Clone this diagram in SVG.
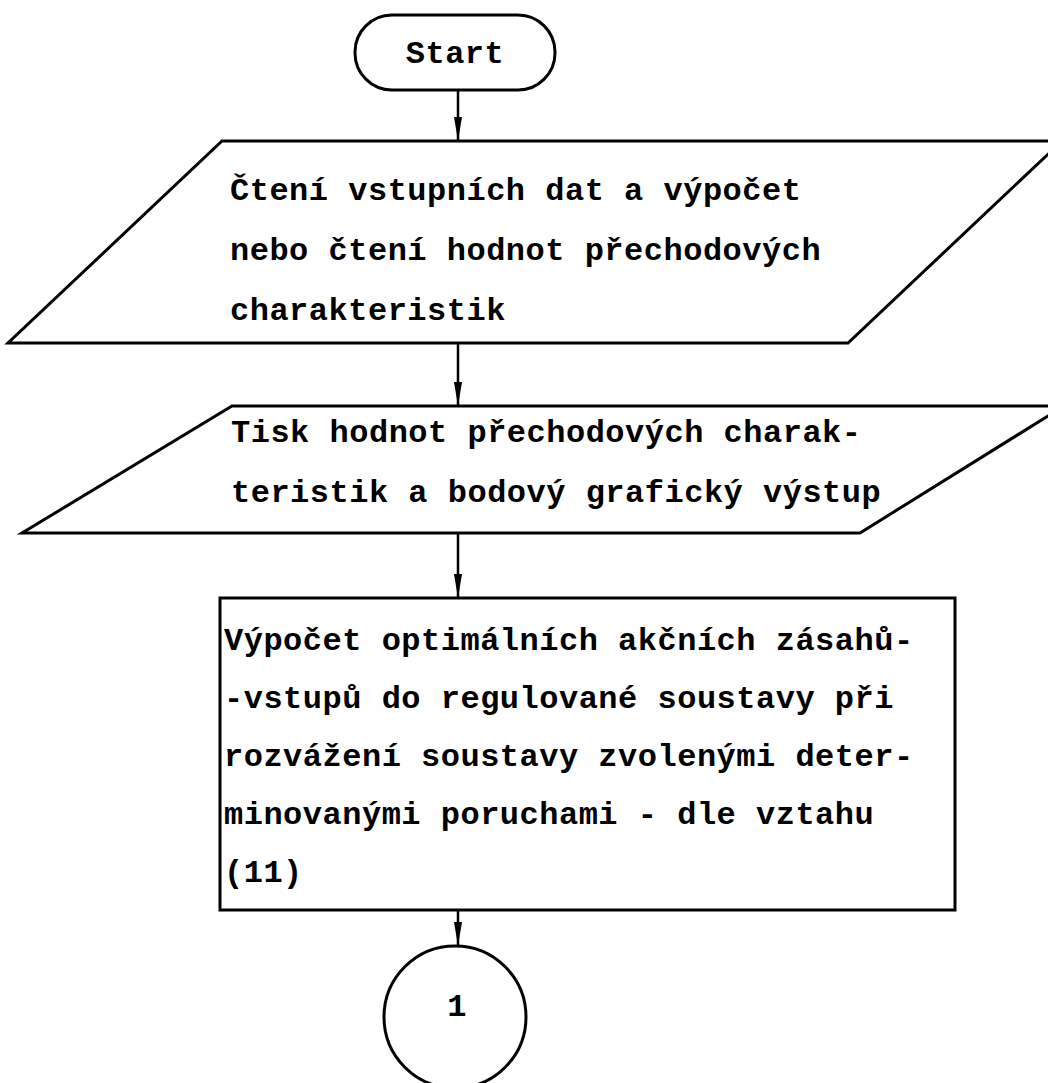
<svg xmlns="http://www.w3.org/2000/svg" width="1048" height="1083" viewBox="0 0 1048 1083">
<style>
.s{fill:#fff;stroke:#000;stroke-width:3;stroke-linejoin:miter}
.c{stroke:#000;stroke-width:2.5;fill:none}
text{font-family:"Liberation Mono","Courier New",monospace;font-weight:bold;font-size:32px;letter-spacing:0.5px;fill:#000}
</style>
<defs>
<marker id="ah" viewBox="0 0 24 10" refX="24" refY="5" markerWidth="24" markerHeight="10" markerUnits="userSpaceOnUse" orient="auto">
<path d="M0,1 L24,5 L0,9 z" fill="#000"/>
</marker>
</defs>
<rect width="1048" height="1083" fill="#fff"/>
<g id="connectors">
<line class="c" x1="458" y1="90" x2="458" y2="141" marker-end="url(#ah)"/>
<line class="c" x1="458" y1="343" x2="458" y2="406" marker-end="url(#ah)"/>
<line class="c" x1="458" y1="533" x2="458" y2="598" marker-end="url(#ah)"/>
<line class="c" x1="458" y1="910" x2="458" y2="946" marker-end="url(#ah)"/>
</g>
<g id="start">
<rect class="s" x="355" y="15" width="200" height="75" rx="37" ry="37"/>
<text x="455" y="63" text-anchor="middle">Start</text>
</g>
<g id="input1">
<polygon class="s" points="222,141 1062,141 848,343 8,343"/>
<text x="230" y="200">Čtení vstupních dat a výpočet</text>
<text x="230" y="260">nebo čtení hodnot přechodových</text>
<text x="230" y="320">charakteristik</text>
</g>
<g id="output1">
<polygon class="s" points="232,406 1064,406 860,533 22,533"/>
<text x="231" y="442">Tisk hodnot přechodových charak-</text>
<text x="231" y="502">teristik a bodový grafický výstup</text>
</g>
<g id="process1">
<rect class="s" x="220" y="598" width="735" height="312"/>
<text x="224" y="650">Výpočet optimálních akčních zásahů-</text>
<text x="224" y="708">-vstupů do regulované soustavy při</text>
<text x="224" y="766">rozvážení soustavy zvolenými deter-</text>
<text x="224" y="824">minovanými poruchami - dle vztahu</text>
<text x="224" y="882">(11)</text>
</g>
<g id="connector1">
<circle class="s" cx="455" cy="1017" r="71"/>
<text x="457" y="1016" text-anchor="middle">1</text>
</g>
</svg>
